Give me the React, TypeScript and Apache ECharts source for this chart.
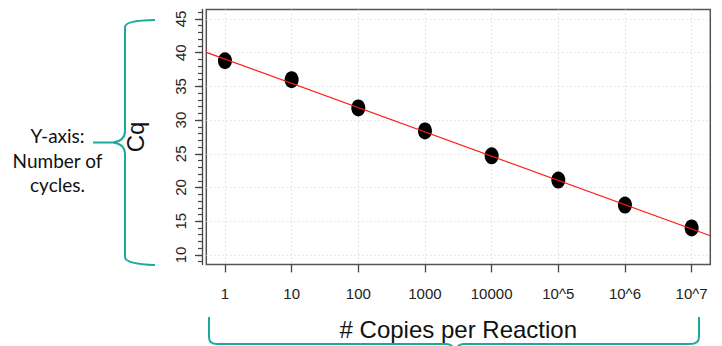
import React, { useEffect, useRef } from "react";
import * as echarts from "echarts";

// ---- data ----
const copiesExponent = [0, 1, 2, 3, 4, 5, 6, 7];
const copiesLabels = ["1", "10", "100", "1000", "10000", "10^5", "10^6", "10^7"];
const cqValues = [38.8, 36.0, 31.8, 28.4, 24.7, 21.1, 17.4, 14.0];
const fitX = [-0.28, 7.28];
const fitY = [40.05, 12.85];
const yMajorTicks = [10, 15, 20, 25, 30, 35, 40, 45];
const yMinorTicks = [9, 10, 11, 12, 13, 14, 15, 16, 17, 18, 19, 20, 21, 22, 23, 24, 25, 26, 27, 28, 29, 30, 31, 32, 33, 34, 35, 36, 37, 38, 39, 40, 41, 42, 43, 44, 45, 46];
const xRange = [-0.28, 7.28];
const yRange = [8.6, 46.4];
const annotationLines = ["Y-axis:", "Number of", "cycles."];

const TEAL = "#19ab9c";

let registered = false;
function registerBraces() {
  if (registered) return;
  registered = true;
  echarts.graphic.registerShape(
    "leftBrace",
    echarts.graphic.extendPath(
      "M155,20 Q125,20.5 125,27 L125,131 Q125,141 113,142.5 L93,142.5 M113,142.5 Q125,144 125,154 L125,257 Q125,264 155,265",
      {}
    )
  );
  echarts.graphic.registerShape(
    "bottomBrace",
    echarts.graphic.extendPath(
      "M209,317 L209,337 Q209,344 217,344 L446,344 Q453,344 455,352 M455,352 Q457,344 464,344 L690,344 Q699,344 699,337 L699,317",
      {}
    )
  );
}

export default function App() {
  const ref = useRef<HTMLDivElement>(null);
  useEffect(() => {
    registerBraces();
    const chart = echarts.init(ref.current!, null, { renderer: "svg" });
    const axisColor = "#444";
    const gridLine = { show: true, lineStyle: { color: "#d0d0d0", width: 1, type: [1, 3] as any } };
    chart.setOption({
      animation: false,
      backgroundColor: "#ffffff",
      textStyle: { fontFamily: "Liberation Sans" },
      grid: {
        left: 206.3,
        right: 11.7,
        top: 9.5,
        bottom: 81.6,
        show: true,
        borderColor: "#555",
        borderWidth: 1.5,
        backgroundColor: "transparent",
        containLabel: false,
        outerBoundsMode: "none",
      },
      xAxis: {
        type: "value",
        min: xRange[0],
        max: xRange[1],
        position: "bottom",
        axisLine: { show: false, onZero: false },
        axisTick: {
          show: true,
          customValues: copiesExponent,
          length: 8,
          lineStyle: { color: axisColor, width: 1.3 },
        },
        axisLabel: {
          customValues: copiesExponent,
          formatter: (v: number) => copiesLabels[copiesExponent.indexOf(Math.round(v))] ?? "",
          margin: 22,
          fontSize: 15,
          color: "#222",
          fontFamily: "Liberation Sans",
        },
        splitLine: gridLine,
        name: "# Copies per Reaction",
        nameLocation: "middle",
        nameGap: 53,
        nameTextStyle: { fontSize: 24, color: "#111", fontFamily: "Liberation Sans" },
      },
      yAxis: [
        {
          type: "value",
          min: yRange[0],
          max: yRange[1],
          position: "left",
          offset: 4.3,
          axisLine: { show: true, onZero: false, lineStyle: { color: axisColor, width: 1.3 } },
          axisTick: {
            show: true,
            customValues: yMajorTicks,
            length: 7,
            lineStyle: { color: axisColor, width: 1.3 },
          },
          axisLabel: {
            customValues: yMajorTicks,
            rotate: 90,
            margin: 14,
            fontSize: 15,
            color: "#222",
            fontFamily: "Liberation Sans",
          },
          splitLine: gridLine,
          name: "Cq",
          nameLocation: "middle",
          nameGap: 55,
          nameTextStyle: { fontSize: 24, color: "#111", fontFamily: "Liberation Sans" },
        },
        {
          type: "value",
          min: yRange[0],
          max: yRange[1],
          position: "left",
          offset: 4.3,
          axisLine: { show: false, onZero: false },
          axisTick: {
            show: true,
            customValues: yMinorTicks,
            length: 4,
            lineStyle: { color: axisColor, width: 1.2 },
          },
          axisLabel: { show: false },
          splitLine: { show: false },
        },
      ],
      series: [
        {
          type: "scatter",
          data: copiesExponent.map((x, i) => [x, cqValues[i]]),
          symbol: "circle",
          symbolSize: [14, 17],
          itemStyle: { color: "#000", opacity: 1 },
          z: 3,
        },
        {
          type: "line",
          data: fitX.map((x, i) => [x, fitY[i]]),
          showSymbol: false,
          symbol: "none",
          lineStyle: { color: "#ff1a1a", width: 1.3 },
          z: 4,
        },
      ],
      graphic: [
        {
          type: "leftBrace",
          x: 0,
          y: 0,
          style: { stroke: TEAL, fill: "none", lineWidth: 2 },
        },
        {
          type: "bottomBrace",
          x: 0,
          y: 0,
          style: { stroke: TEAL, fill: "none", lineWidth: 2 },
        },
        ...annotationLines.map((t, i) => ({
          type: "text",
          x: 57.5,
          y: 135.6 + i * 24.5,
          style: {
            text: t,
            fontFamily: "Lato",
            fontSize: 19,
            fill: "#111",
            textAlign: "center",
            textVerticalAlign: "middle",
          },
        })),
      ],
    });
    return () => chart.dispose();
  }, []);
  return (
    <div
      ref={ref}
      style={{ position: "fixed", left: 0, top: 0, width: 722, height: 346, background: "#fff" }}
    />
  );
}
